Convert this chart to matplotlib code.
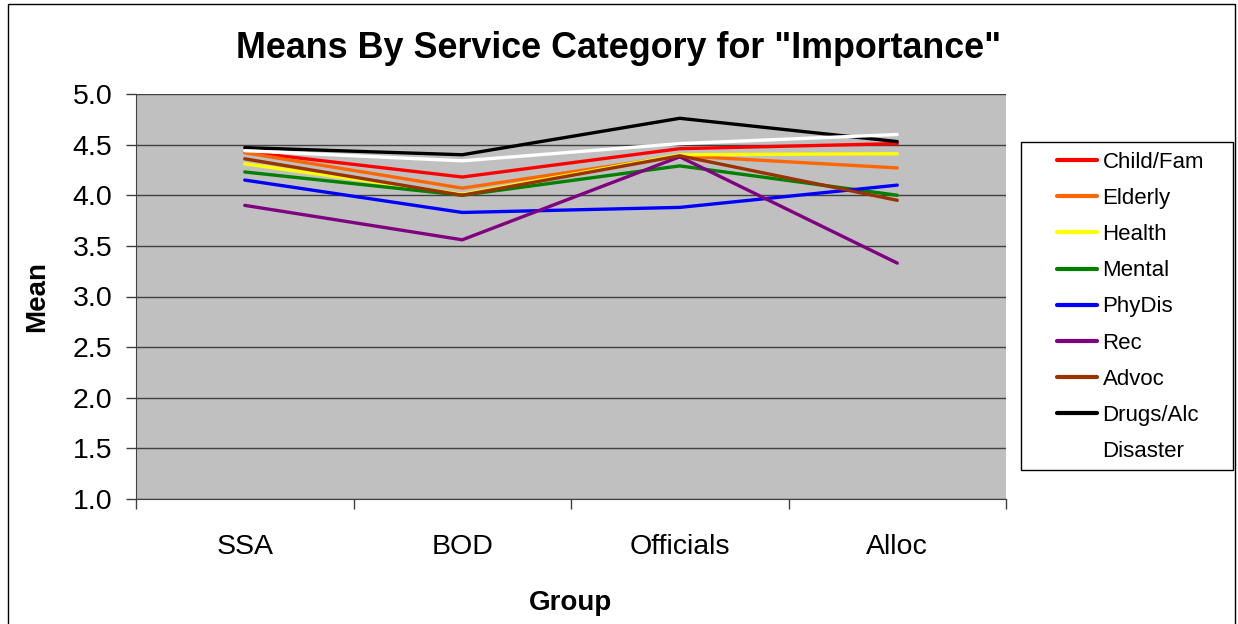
import matplotlib
matplotlib.use("Agg")
import matplotlib.pyplot as plt
from matplotlib.patches import Rectangle
import numpy as np

plt.rcParams['font.family'] = ['Liberation Sans', 'DejaVu Sans']

groups = ["SSA", "BOD", "Officials", "Alloc"]
series_names = ["Child/Fam", "Elderly", "Health", "Mental", "PhyDis",
                "Rec", "Advoc", "Drugs/Alc", "Disaster"]
child_fam = [4.43, 4.18, 4.46, 4.51]
elderly = [4.42, 4.07, 4.39, 4.27]
health = [4.31, 4.01, 4.40, 4.41]
mental = [4.23, 4.00, 4.29, 4.00]
phydis = [4.15, 3.83, 3.88, 4.10]
rec = [3.90, 3.56, 4.38, 3.33]
advoc = [4.36, 4.00, 4.39, 3.95]
drugs_alc = [4.47, 4.40, 4.76, 4.53]
disaster = [4.44, 4.34, 4.51, 4.60]
colors = ["#FF0000", "#FF6600", "#FFFF00", "#008000", "#0000FF",
          "#800080", "#993300", "#000000", "#FFFFFF"]
values = [child_fam, elderly, health, mental, phydis, rec, advoc,
          drugs_alc, disaster]

W, H = 1238, 624
fig = plt.figure(figsize=(W / 100, H / 100), dpi=100)
fig.patch.set_facecolor("white")
# outer chart border
fig.patches.append(Rectangle((8 / W, -0.02), 1227 / W, 0.02 + 620 / H,
                             transform=fig.transFigure, fill=False,
                             edgecolor="black", linewidth=1.0, zorder=-2))

ax = fig.add_axes([136 / W, 1 - 499 / H, 870 / W, 405 / H])
ax.set_facecolor("#C0C0C0")

x = np.arange(len(groups))
for name, vals, c in zip(series_names, values, colors):
    ax.plot(x, vals, color=c, linewidth=2.4, label=name,
            solid_capstyle="round", solid_joinstyle="miter")

ax.set_xlim(-0.5, len(groups) - 0.5)
ax.set_ylim(1.0, 5.0)
yt = np.arange(1.0, 5.01, 0.5)
ax.set_yticks(yt)
ax.set_yticklabels([f"{v:.1f}" for v in yt], fontsize=20.5)
ax.yaxis.grid(True, color="#404040", linewidth=1.0)
ax.set_axisbelow(True)
ax.tick_params(axis="y", direction="out", length=7, width=1, color="#404040", pad=10)

ax.set_xticks(np.arange(-0.5, len(groups), 1.0))
ax.set_xticklabels([])
ax.tick_params(axis="x", which="major", direction="out", length=7, width=1, color="#404040")
ax.set_xticks(x, minor=True)
ax.set_xticklabels(groups, minor=True, fontsize=20.5)
ax.tick_params(axis="x", which="minor", length=0, pad=25)

for side in ["top", "right"]:
    ax.spines[side].set_visible(False)
for side in ["left", "bottom"]:
    ax.spines[side].set_color("#404040")

ax.set_xlabel("Group", fontsize=20, fontweight="bold", labelpad=22)
ax.set_ylabel("Mean", fontsize=20, fontweight="bold", labelpad=16)

fig.text(619 / W, 1 - 48 / H, 'Means By Service Category for "Importance"',
         ha="center", va="center", fontsize=25.8, fontweight="bold")

# legend box drawn separately so its padding can be wider than the entries
fig.patches.append(Rectangle((1021 / W, 1 - 470 / H), 212 / W, 328 / H,
                             transform=fig.transFigure, facecolor="white",
                             edgecolor="black", linewidth=1.0, zorder=-1))
leg = ax.legend(loc="upper left", bbox_to_anchor=(1057 / W, 1 - 152 / H),
                bbox_transform=fig.transFigure, fontsize=16, frameon=False,
                handlelength=1.8, handletextpad=0.25, labelspacing=0.68,
                borderpad=0, borderaxespad=0)
for h in leg.get_lines():
    h.set_linewidth(3)

fig.savefig("out.png", dpi=100)
